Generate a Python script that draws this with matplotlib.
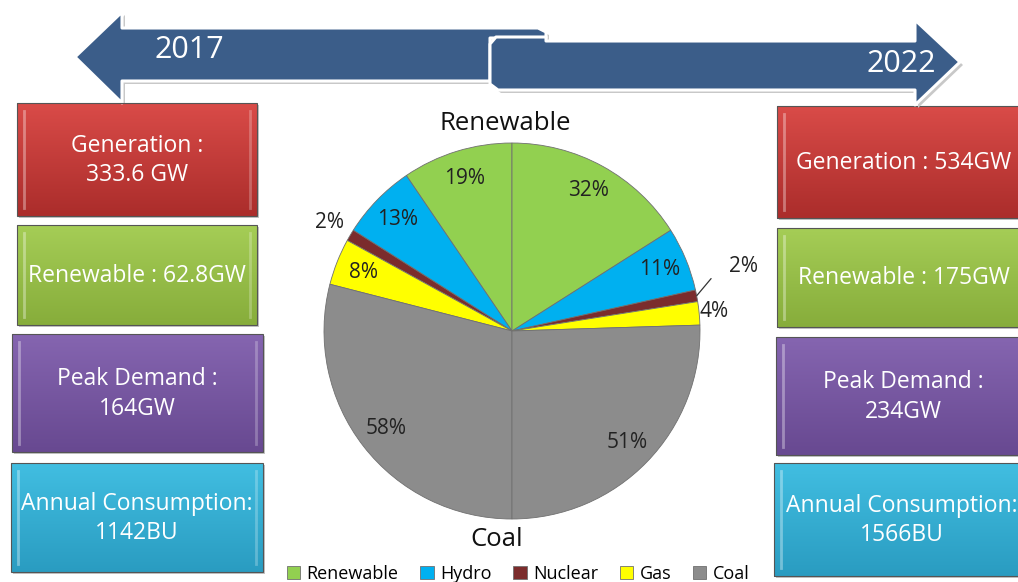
import matplotlib
matplotlib.use('Agg')
import matplotlib.pyplot as plt
import numpy as np
from matplotlib.patches import Polygon, Rectangle
from matplotlib.colors import to_rgb

plt.rcParams['font.family'] = ['Open Sans', 'DejaVu Sans']

# ---------------- data ----------------
categories = ['Renewable', 'Hydro', 'Nuclear', 'Gas', 'Coal']
share_2017 = [19, 13, 2, 8, 58]
share_2022 = [32, 11, 2, 4, 51]
cat_colors = ['#92d050', '#00b0f0', '#7b2c2c', '#ffff00', '#8c8c8c']
year_left, year_right = '2017', '2022'
left_boxes = ['Generation :\n333.6 GW', 'Renewable : 62.8GW',
              'Peak Demand :\n164GW', 'Annual Consumption:\n1142BU']
right_boxes = ['Generation : 534GW', 'Renewable : 175GW',
               'Peak Demand :\n234GW', 'Annual Consumption:\n1566BU']
box_top_colors = ['#d94b48', '#a5cd56', '#8565b0', '#41bee1']
box_bot_colors = ['#ab2d2b', '#87ad3b', '#684991', '#2a9cc1']

W, H = 1018, 582
fig = plt.figure(figsize=(W / 100, H / 100), dpi=100)
ax = fig.add_axes([0, 0, 1, 1])


def Y(y):
    return H - y


# ---------------- arrows ----------------
arrow_col = '#3b5d89'
left_arrow = [(75, 57), (122, 12), (122, 28), (538, 28), (546, 32), (546, 38),
              (490, 38), (490, 81), (122, 81), (122, 103)]
right_arrow = [(490, 44), (496, 37), (546, 37), (546, 41), (915, 41), (915, 20),
               (960, 62), (915, 105), (915, 90), (498, 90), (490, 84)]
for pts, z in ((left_arrow, 3), (right_arrow, 5)):
    sh = [(x + 3, Y(y + 3)) for x, y in pts]
    ax.add_patch(Polygon(sh, closed=True, fc='#c8c8c8', ec='none', zorder=z - 1))
    ax.add_patch(Polygon([(x, Y(y)) for x, y in pts], closed=True, fc=arrow_col,
                         ec='white', lw=2.2, zorder=z, joinstyle='round'))
ax.text(189, Y(50), year_left, color='white', fontsize=22, ha='center', va='center', zorder=6)
ax.text(901, Y(64), year_right, color='white', fontsize=22, ha='center', va='center', zorder=6)


# ---------------- boxes ----------------
def grad_box(x0, y0, x1, y1, ctop, cbot, text):
    ax.add_patch(Rectangle((x0 + 2, Y(y1) - 2), x1 - x0, y1 - y0, fc='#c4c4c4',
                           ec='none', zorder=1))
    clip = Rectangle((x0, Y(y1)), x1 - x0, y1 - y0, fc='none', ec='#555555',
                     lw=0.8, zorder=3)
    ax.add_patch(clip)
    g = np.linspace(0, 1, 64)[:, None, None]
    img = np.array(to_rgb(ctop))[None, None, :] * (1 - g) + np.array(to_rgb(cbot))[None, None, :] * g
    im = ax.imshow(img, extent=(x0, x1, Y(y1), Y(y0)), origin='upper', aspect='auto',
                   zorder=2, interpolation='bilinear')
    im.set_clip_path(clip)
    # bevel highlights
    ax.plot([x0 + 7, x0 + 7], [Y(y0 + 8), Y(y1 - 8)], color='white', alpha=0.35, lw=2, zorder=2.5)
    ax.plot([x1 - 7, x1 - 7], [Y(y0 + 8), Y(y1 - 8)], color='white', alpha=0.25, lw=2, zorder=2.5)
    ax.text((x0 + x1) / 2, Y((y0 + y1) / 2 + 1), text, color='white', fontsize=16.5,
            ha='center', va='center', linespacing=1.28, zorder=4)


left_rows = [(17, 103, 257, 216), (17, 225, 257, 325), (12, 334, 263, 452), (11, 463, 263, 572)]
right_rows = [(777, 106, 1030, 218), (777, 228, 1030, 327), (776, 337, 1030, 455), (774, 463, 1030, 576)]
for i in range(4):
    grad_box(*left_rows[i], box_top_colors[i], box_bot_colors[i], left_boxes[i])
    grad_box(*right_rows[i], box_top_colors[i], box_bot_colors[i], right_boxes[i])

# ---------------- pie (two half pies) ----------------
cx, cy, R = 512, Y(331), 188
wp = dict(edgecolor='#707070', linewidth=0.6)
wl, _ = ax.pie(share_2017 + [sum(share_2017)], colors=cat_colors + ['white'],
               center=(cx, cy), radius=R, startangle=90, counterclock=True,
               wedgeprops=wp, frame=True)
wr, _ = ax.pie(share_2022 + [sum(share_2022)], colors=cat_colors + ['white'],
               center=(cx, cy), radius=R, startangle=90, counterclock=False,
               wedgeprops=wp, frame=True)
wl[-1].set_visible(False)
wr[-1].set_visible(False)
for w in wl[:-1] + wr[:-1]:
    w.set_zorder(3)


def mid_angle(w):
    return np.deg2rad((w.theta1 + w.theta2) / 2)


PFS = 15
for wedges, vals in ((wl, share_2017), (wr, share_2022)):
    for w, v in zip(wedges[:-1], vals):
        a = mid_angle(w)
        if v <= 2:
            continue
        r = 0.85 if v > 5 else 1.08
        ax.text(cx + r * R * np.cos(a), cy + r * R * np.sin(a), f'{v}%',
                fontsize=PFS, ha='center', va='center', color='#222222', zorder=5)

# small nuclear labels
a = mid_angle(wl[2])
ax.text(cx + 1.13 * R * np.cos(a), cy + 1.13 * R * np.sin(a), f'{share_2017[2]}%',
        fontsize=PFS, ha='center', va='center', color='#222222', zorder=5)
a = mid_angle(wr[2])
ax.annotate(f'{share_2022[2]}%', xy=(cx + R * np.cos(a), cy + R * np.sin(a)),
            xytext=(744, Y(267)), fontsize=PFS, ha='center', va='center', color='#222222',
            arrowprops=dict(arrowstyle='-', color='#333333', lw=0.9,
                            connectionstyle='angle,angleA=0,angleB=50,rad=0',
                            shrinkA=14, shrinkB=0), zorder=5)

ax.text(505, Y(123), 'Renewable', fontsize=18.5, ha='center', va='center', color='#111111')
ax.text(497, Y(540), 'Coal', fontsize=18.5, ha='center', va='center', color='#111111')

leg = ax.legend(wl[:-1], categories, loc='center', bbox_to_anchor=(518 / W, Y(574) / H),
                ncol=5, frameon=False, fontsize=13, handlelength=0.75, handleheight=0.75,
                handletextpad=0.35, columnspacing=1.2, borderpad=0)

ax.set_xlim(0, W)
ax.set_ylim(0, H)
ax.set_aspect('auto')
ax.axis('off')
fig.savefig('out.png', dpi=100)
